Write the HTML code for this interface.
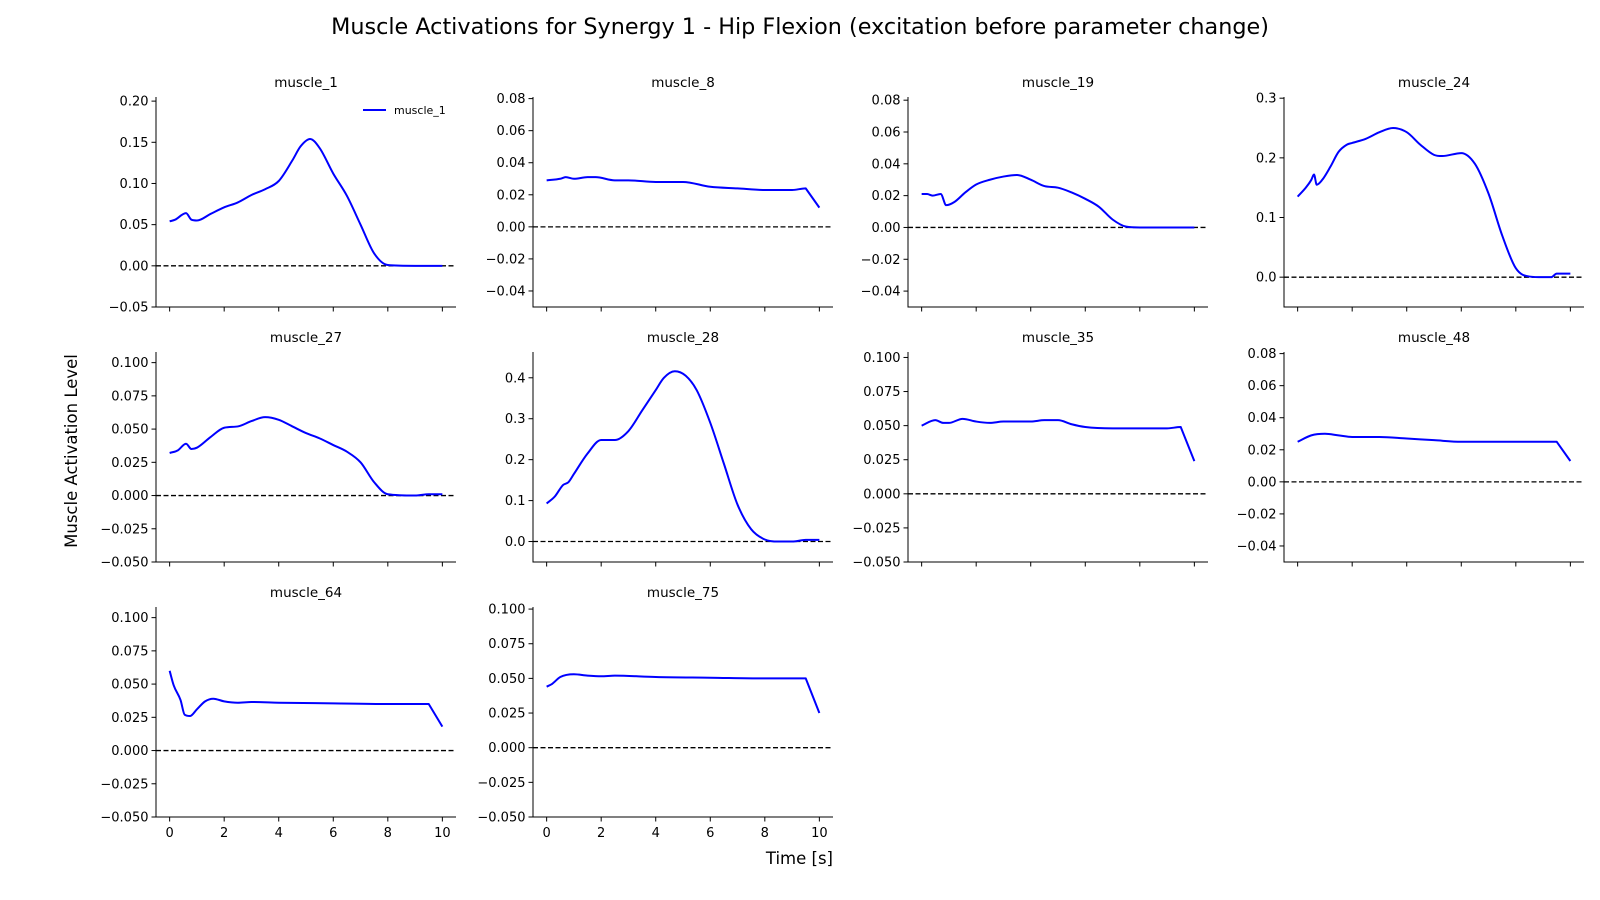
<!DOCTYPE html>
<html><head><meta charset="utf-8"><style>
html,body{margin:0;padding:0;background:#fff;}
svg{display:block;font-family:"DejaVu Sans","Liberation Sans",sans-serif;}
</style></head><body>
<svg id="fig" width="1600" height="900" viewBox="0 0 1600 900">
<text x="800" y="34" text-anchor="middle" font-size="22.3" fill="#000">Muscle Activations for Synergy 1 - Hip Flexion (excitation before parameter change)</text>
<text transform="translate(77,451) rotate(-90)" text-anchor="middle" font-size="16.5" fill="#000">Muscle Activation Level</text>
<text x="833" y="864" text-anchor="end" font-size="16.5" fill="#000">Time [s]</text>
</svg>
<script>
const names=["muscle_1","muscle_8","muscle_19","muscle_24","muscle_27","muscle_28","muscle_35","muscle_48","muscle_64","muscle_75"];
const t1=[0,0.2,0.6,0.8,1,1.5,2,2.5,3,3.5,4,4.5,4.8,5.15,5.5,6,6.5,7,7.5,8,9,10];
const v1=[0.054,0.056,0.064,0.056,0.055,0.063,0.071,0.077,0.086,0.093,0.103,0.128,0.145,0.154,0.143,0.112,0.085,0.05,0.015,0.001,0,0];
const t8=[0,0.5,0.7,1,1.5,1.8,2.5,3,4,5,6,7,8,9,9.5,10];
const v8=[0.029,0.030,0.031,0.030,0.031,0.031,0.029,0.029,0.028,0.028,0.025,0.024,0.023,0.023,0.024,0.012];
const t19=[0,0.2,0.4,0.7,0.9,1.2,1.6,2,2.5,3,3.5,4,4.5,5,5.5,6,6.5,7,7.5,8,10];
const v19=[0.021,0.021,0.020,0.021,0.014,0.016,0.022,0.027,0.030,0.032,0.033,0.030,0.026,0.025,0.022,0.018,0.013,0.005,0.0005,0,0];
const t24=[0,0.3,0.5,0.6,0.7,0.9,1.2,1.5,1.8,2,2.5,3,3.5,4,4.5,5,5.3,6,6.5,7,7.5,8,8.5,9,9.3,9.5,10];
const v24=[0.135,0.15,0.163,0.172,0.155,0.163,0.185,0.21,0.222,0.225,0.232,0.243,0.25,0.243,0.222,0.205,0.203,0.208,0.19,0.14,0.07,0.015,0.001,0,0,0.006,0.006];
const t27=[0,0.3,0.6,0.8,1,1.5,2,2.5,3,3.5,4,4.5,5,5.5,6,6.5,7,7.5,8,9,9.5,10];
const v27=[0.032,0.034,0.039,0.035,0.036,0.044,0.051,0.052,0.056,0.059,0.057,0.052,0.047,0.043,0.038,0.033,0.025,0.01,0.001,0,0.001,0.001];
const t28=[0,0.3,0.6,0.8,1,1.5,2,2.5,3,3.5,4,4.3,4.7,5.1,5.5,6,6.5,7,7.5,8,8.5,9,9.5,10];
const v28=[0.093,0.11,0.138,0.145,0.165,0.215,0.248,0.248,0.27,0.32,0.37,0.4,0.416,0.405,0.37,0.29,0.19,0.09,0.03,0.005,0,0,0.004,0.004];
const t35=[0,0.5,0.8,1,1.5,2,2.5,3,4,4.5,5,5.5,6,7,8,9,9.5,10];
const v35=[0.05,0.054,0.052,0.052,0.055,0.053,0.052,0.053,0.053,0.054,0.054,0.051,0.049,0.048,0.048,0.048,0.049,0.024];
const t48=[0,0.5,1,1.5,2,3,4,5,6,7,8,9,9.5,10];
const v48=[0.025,0.029,0.030,0.029,0.028,0.028,0.027,0.026,0.025,0.025,0.025,0.025,0.025,0.013];
const t64=[0,0.15,0.4,0.55,0.75,1,1.3,1.6,2,2.5,3,4,6,8,9.5,10];
const v64=[0.06,0.049,0.038,0.027,0.026,0.031,0.037,0.039,0.037,0.036,0.0365,0.036,0.0355,0.035,0.035,0.018];
const t75=[0,0.2,0.5,1,1.5,2,2.5,4,6,8,9.5,10];
const v75=[0.044,0.046,0.051,0.053,0.052,0.0515,0.052,0.051,0.0505,0.050,0.050,0.025];
const times=[t1,t8,t19,t24,t27,t28,t35,t48,t64,t75];
const vals=[v1,v8,v19,v24,v27,v28,v35,v48,v64,v75];
const ylims=[[-0.05,0.205],[-0.05,0.081],[-0.05,0.082],[-0.05,0.302],[-0.05,0.108],[-0.05,0.463],[-0.05,0.104],[-0.05,0.081],[-0.05,0.108],[-0.05,0.1015]];
const yticks=[["-0.05","0.00","0.05","0.10","0.15","0.20"],["-0.04","-0.02","0.00","0.02","0.04","0.06","0.08"],["-0.04","-0.02","0.00","0.02","0.04","0.06","0.08"],["0.0","0.1","0.2","0.3"],["-0.050","-0.025","0.000","0.025","0.050","0.075","0.100"],["0.0","0.1","0.2","0.3","0.4"],["-0.050","-0.025","0.000","0.025","0.050","0.075","0.100"],["-0.04","-0.02","0.00","0.02","0.04","0.06","0.08"],["-0.050","-0.025","0.000","0.025","0.050","0.075","0.100"],["-0.050","-0.025","0.000","0.025","0.050","0.075","0.100"]];
const xticks=[0,2,4,6,8,10];
const xlim=[-0.5,10.5];

const NS="http://www.w3.org/2000/svg";
const fig=document.getElementById('fig');
const colL=[156,533,908,1284], colW=300, rowT=[97,352,607], rowH=210;
function mk(tag,attrs,parent){const e=document.createElementNS(NS,tag);for(const k in attrs)e.setAttribute(k,attrs[k]);parent.appendChild(e);return e;}
function smooth(pts){const n=pts.length;const d=[],m=[];
 for(let i=0;i<n-1;i++)d.push((pts[i+1][1]-pts[i][1])/(pts[i+1][0]-pts[i][0]));
 for(let i=0;i<n;i++){if(i===0)m.push(d[0]);else if(i===n-1)m.push(d[n-2]);else m.push(d[i-1]*d[i]<=0?0:(d[i-1]+d[i])/2);}
 for(let i=0;i<n-1;i++){if(d[i]===0){m[i]=0;m[i+1]=0;continue;}const a=m[i]/d[i],b=m[i+1]/d[i],s=a*a+b*b;if(s>9){const tau=3/Math.sqrt(s);m[i]=tau*a*d[i];m[i+1]=tau*b*d[i];}}
 m[n-2]=0;
 let s="M"+pts[0][0].toFixed(2)+","+pts[0][1].toFixed(2);
 for(let i=0;i<n-1;i++){const h=pts[i+1][0]-pts[i][0];
  if(i===n-2){s+=" L"+pts[i+1][0].toFixed(2)+","+pts[i+1][1].toFixed(2);continue;}
  s+=" C"+(pts[i][0]+h/3).toFixed(2)+","+(pts[i][1]+m[i]*h/3).toFixed(2)+" "+(pts[i+1][0]-h/3).toFixed(2)+","+(pts[i+1][1]-m[i+1]*h/3).toFixed(2)+" "+pts[i+1][0].toFixed(2)+","+pts[i+1][1].toFixed(2);}
 return s;}
names.forEach((nm,i)=>{
 const r=Math.floor(i/4),c=i%4;const L=colL[c],T=rowT[r],W=colW,H=rowH;
 const g=mk('g',{},fig);
 
 
 const yl=ylims[i];
 const X=v=>L+(v-xlim[0])/(xlim[1]-xlim[0])*W;
 const Y=v=>T+H-(v-yl[0])/(yl[1]-yl[0])*H;
 const tt=mk('text',{x:L+W/2,y:T-10,'text-anchor':'middle','font-size':'13.5',fill:'#000'},g);tt.textContent=nm;
 
 
 const z=mk('line',{x1:L,x2:L+W,y1:Y(0),y2:Y(0),stroke:'#000','stroke-width':1.3,'stroke-dasharray':'5,2.5'},g);
 
 
 const pts=times[i].map((t,k)=>[X(t),Y(vals[i][k])]);
 const p=mk('path',{d:smooth(pts),fill:'none',stroke:'#0000ff','stroke-width':2,'stroke-linejoin':'round'},g);
 
 
 const sp=mk('path',{d:`M${L},${T} V${T+H} H${L+W}`,fill:'none',stroke:'#000','stroke-width':1},g);
 
 
 yticks[i].forEach(s=>{const v=parseFloat(s),y=Y(v);
  mk('line',{x1:L-4.5,x2:L,y1:y,y2:y,stroke:'#000','stroke-width':1},g);
  const tx=mk('text',{x:L-7.5,y:y+4.5,'text-anchor':'end','font-size':'13',fill:'#000'},g);tx.textContent=s.replace('-','\u2212');
  
  });
 xticks.forEach(v=>{const x=X(v);
  mk('line',{x1:x,x2:x,y1:T+H,y2:T+H+4.5,stroke:'#000','stroke-width':1},g);
  if(r===2){const tx=mk('text',{x:x,y:T+H+20,'text-anchor':'middle','font-size':'13',fill:'#000'},g);tx.textContent=v;
   
   }});
 if(i===0){
  const lg=mk('g',{},g);
  
  
  mk('line',{x1:363,x2:386,y1:110,y2:110,stroke:'#0000ff','stroke-width':2},lg);
  const lt=mk('text',{x:394,y:114,'font-size':'11',fill:'#000'},lg);lt.textContent='muscle_1';
  
  
 }
});
</script>
</body></html>
